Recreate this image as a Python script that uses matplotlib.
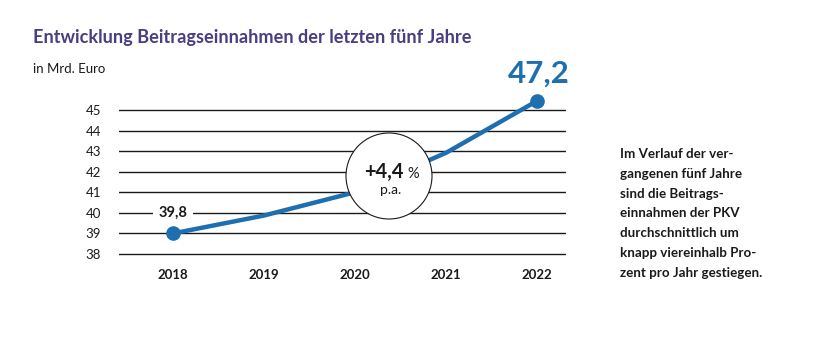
import matplotlib.pyplot as plt
from matplotlib.patches import Circle

plt.rcParams['font.family'] = ['Lato', 'DejaVu Sans']

# Beitragseinnahmen der PKV in Mrd. Euro
years = [2018, 2019, 2020, 2021, 2022]
income = [39.8, 40.8, 42.1, 44.3, 47.2]
grid_labels = [38, 39, 40, 41, 42, 43, 44, 45]
growth = '+4,4'

# the graphic uses a compressed, offset scale: grid label -> value
scale_a = 0.8703
scale_b = 4.362
def grid_value(lbl):
    return (lbl - scale_b) / scale_a

title_col = '#4b3d82'
blue = '#1d6fb0'
dark = '#1a1a1a'

fig = plt.figure(figsize=(8.34, 3.46), dpi=100)
W, H = 834, 346
# axes box in pixels: x 119..566, y 90..262
ax = fig.add_axes([119 / W, 1 - 262 / H, (566 - 119) / W, (262 - 90) / H])
ax.set_xlim(2018 - 54 / 91, 2022 + 29 / 91)
px_per_grid = 20.6
top_lbl = 45 + 20 / px_per_grid
bot_lbl = 38 - 8 / px_per_grid
ax.set_ylim(grid_value(bot_lbl), grid_value(top_lbl))
for s in ax.spines.values():
    s.set_visible(False)

for g in grid_labels:
    ax.axhline(grid_value(g), color=dark, lw=1.0, zorder=1)
ax.set_yticks([grid_value(g) for g in grid_labels])
ax.set_yticklabels([str(g) for g in grid_labels], fontsize=9.5, color=dark)
ax.set_xticks(years)
ax.set_xticklabels([str(y) for y in years], fontsize=9.5, fontweight='bold', color=dark)
ax.tick_params(length=0)
ax.tick_params(axis='y', pad=13)
ax.tick_params(axis='x', pad=5)

ax.plot(years, income, color=blue, lw=3.2, solid_capstyle='round', zorder=3)
ax.plot([years[0], years[-1]], [income[0], income[-1]], 'o', color=blue, ms=9.5, zorder=4)

# first and last value labels
ax.text(years[0], grid_value(40), f'{income[0]:.1f}'.replace('.', ','), ha='center', va='center',
        fontsize=10.5, fontweight='bold', color=dark, zorder=5,
        bbox=dict(facecolor='white', edgecolor='none', pad=4))
ax.annotate(f'{income[-1]:.1f}'.replace('.', ','), (years[-1], income[-1]), xytext=(1, 20),
            textcoords='offset points', ha='center', va='center',
            fontsize=22.5, fontweight='bold', color=blue, annotation_clip=False)

# growth badge
badge = Circle((389, H - 176), 43, transform=None, facecolor='white', edgecolor=dark, lw=0.8, zorder=6)
fig.patches.append(badge)
fig.text(404 / W, 1 - 172 / H, growth, ha='right', va='center', fontsize=14.5, fontweight='bold', color=dark, zorder=7)
fig.text(407 / W, 1 - 174 / H, '%', ha='left', va='center', fontsize=10.5, color=dark, zorder=7)
fig.text(391 / W, 1 - 190 / H, 'p.a.', ha='center', va='center', fontsize=10, color=dark, zorder=7)

fig.text(33 / W, 1 - 38 / H, 'Entwicklung Beitragseinnahmen der letzten fünf Jahre',
         ha='left', va='center', fontsize=13.1, fontweight='bold', color=title_col)
fig.text(33 / W, 1 - 69 / H, 'in Mrd. Euro', ha='left', va='center', fontsize=9.5, color=dark)

note = ['Im Verlauf der ver-', 'gangenen fünf Jahre', 'sind die Beitrags-',
        'einnahmen der PKV', 'durchschnittlich um', 'knapp viereinhalb Pro-',
        'zent pro Jahr gestiegen.']
for i, line in enumerate(note):
    fig.text(620 / W, 1 - (154 + i * 19.8) / H, line, ha='left', va='center',
             fontsize=9.6, fontweight='bold', color=dark)

fig.savefig('out.png', dpi=100, facecolor='white')
